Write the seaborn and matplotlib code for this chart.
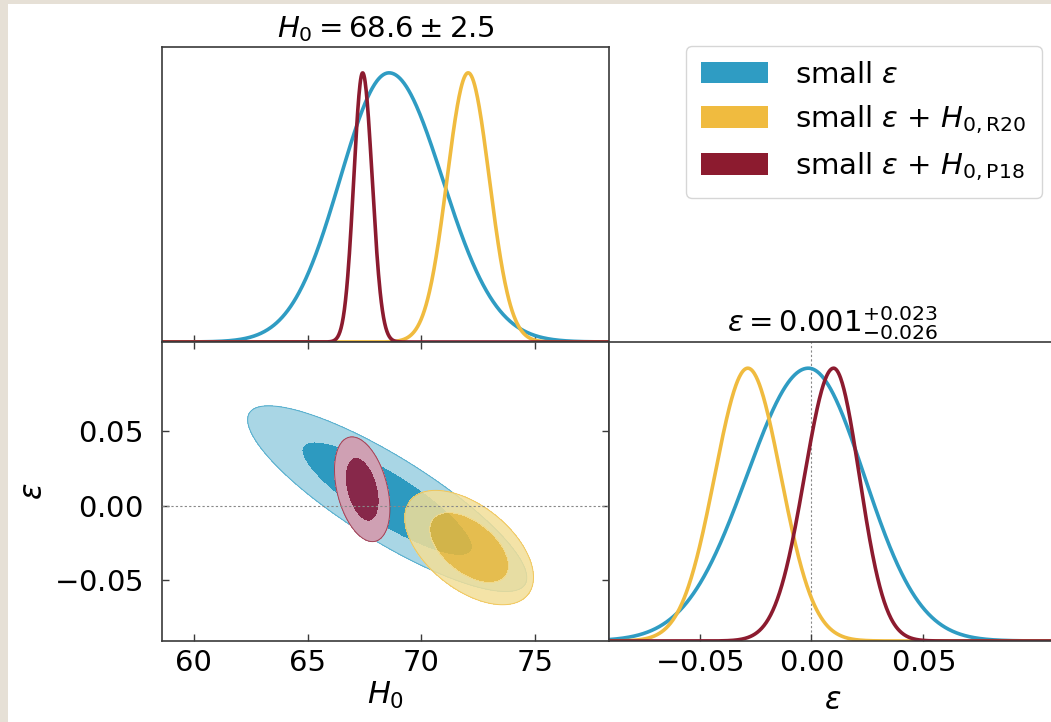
import numpy as np
import pandas as pd
import matplotlib
matplotlib.use("Agg")
import matplotlib.pyplot as plt
import seaborn as sns
from matplotlib.patches import Patch, Rectangle

# ---------------- data ----------------
series = ["small $\\epsilon$",
          "small $\\epsilon$ + $H_{0,\\mathrm{R20}}$",
          "small $\\epsilon$ + $H_{0,\\mathrm{P18}}$"]
line_colors = ["#2f9cc3", "#f0bb3f", "#8c1b2f"]

# 1D marginals (mode, sigma below mode, sigma above mode)
h0_mode = [68.58, 72.06, 67.42]
h0_sig_lo = [2.15, 0.93, 0.39]
h0_sig_hi = [2.35, 0.93, 0.42]
eps_mode = [-0.0013, -0.0284, 0.0100]
eps_sig_lo = [0.0275, 0.0148, 0.0130]
eps_sig_hi = [0.0250, 0.0148, 0.0115]

# 2D contours (mean, sigma, correlation)
c2_h0_mean = [68.5, 72.1, 67.4]
c2_eps_mean = [0.0047, -0.028, 0.011]
c2_h0_sig = [2.47, 1.14, 0.49]
c2_eps_sig = [0.0250, 0.0154, 0.0141]
c2_rho = [-0.85, -0.52, -0.37]
fill_light = ["#a9d6e5", "#f3df98", "#cfa0b3"]
fill_dark = ["#2d9ac0", "#f0b935", "#87284a"]
fill_alpha = [1.0, 0.85, 1.0]

title_h0 = "$H_0 = 68.6 \\pm 2.5$"
title_eps = "$\\epsilon = 0.001^{+0.023}_{-0.026}$"
h0_ticks = [60, 65, 70, 75]
eps_ticks = [-0.05, 0.00, 0.05]
eps_ticklabels = ["$-0.05$", "$0.00$", "$0.05$"]
h0_lim = (58.6, 78.25)
eps_lim = (-0.0905, 0.1095)

# ---------------- style ----------------
sns.set_theme(style="ticks")
plt.rcParams['font.family'] = ['DejaVu Sans']
plt.rcParams['mathtext.fontset'] = 'dejavusans'
plt.rcParams['text.color'] = 'black'
plt.rcParams['axes.labelcolor'] = 'black'
plt.rcParams['axes.titlecolor'] = 'black'

W, H = 1051, 722
fig = plt.figure(figsize=(W / 100, H / 100), dpi=100, facecolor="#e6e0d6")
fig.patches.append(Rectangle((8 / W, 0), 1, 1 - 4 / H, transform=fig.transFigure,
                             facecolor="white", edgecolor="none", zorder=-10))

axL, axR = 162 / W, 609 / W
aw = 447 / W
ah = 299 / H
b_bot = 1 - 641 / H
b_top = 1 - 342 / H
ax_top = fig.add_axes([axL, b_top, aw, 295 / H])
ax2d = fig.add_axes([axL, b_bot, aw, ah])
ax_br = fig.add_axes([axR, b_bot, aw, ah])

spine_col = "#3a3a3a"
tick_fs = 21
title_fs = 21
label_fs = 22


def split_normal(x, m, slo, shi):
    s = np.where(x < m, slo, shi)
    return np.exp(-0.5 * ((x - m) / s) ** 2)


# ---------- 1D H0 ----------
xh = np.linspace(h0_lim[0], h0_lim[1], 800)
rows = []
for i, name in enumerate(series):
    p = split_normal(xh, h0_mode[i], h0_sig_lo[i], h0_sig_hi[i])
    rows.append(pd.DataFrame({"H0": xh, "p": p, "series": name}))
df_h0 = pd.concat(rows, ignore_index=True)
sns.lineplot(data=df_h0, x="H0", y="p", hue="series", hue_order=series,
             palette=line_colors, lw=2.6, legend=False, ax=ax_top, estimator=None)
ax_top.set_xlim(*h0_lim)
ax_top.set_ylim(0, 1.096)
ax_top.set_xticks(h0_ticks)
ax_top.set_xticklabels([])
ax_top.set_yticks([])
ax_top.set_xlabel("")
ax_top.set_ylabel("")
ax_top.tick_params(axis="x", direction="in", length=5, width=1, colors=spine_col)
ax_top.set_title(title_h0, fontsize=title_fs, pad=7)

# ---------- 1D eps ----------
xe = np.linspace(eps_lim[0], eps_lim[1], 800)
rows = []
for i, name in enumerate(series):
    p = split_normal(xe, eps_mode[i], eps_sig_lo[i], eps_sig_hi[i])
    rows.append(pd.DataFrame({"eps": xe, "p": p, "series": name}))
df_eps = pd.concat(rows, ignore_index=True)
ax_br.axvline(0, color="#888888", lw=0.8, ls=(0, (2, 2)), zorder=0)
sns.lineplot(data=df_eps, x="eps", y="p", hue="series", hue_order=series,
             palette=line_colors, lw=2.6, legend=False, ax=ax_br, estimator=None)
ax_br.set_xlim(*eps_lim)
ax_br.set_ylim(0, 1.096)
ax_br.set_xticks(eps_ticks)
ax_br.set_xticklabels(eps_ticklabels, fontsize=tick_fs)
ax_br.set_yticks([])
ax_br.set_ylabel("")
ax_br.set_xlabel("$\\epsilon$", fontsize=label_fs, labelpad=6)
ax_br.tick_params(axis="x", direction="in", length=5, width=1, colors=spine_col,
                  labelcolor="black", pad=6)
ax_br.set_title(title_eps, fontsize=title_fs, pad=3)

# ---------- 2D ----------
gx = np.linspace(h0_lim[0], h0_lim[1], 500)
gy = np.linspace(eps_lim[0], eps_lim[1], 500)
X, Y = np.meshgrid(gx, gy)
for i in range(len(series)):
    dx = (X - c2_h0_mean[i]) / c2_h0_sig[i]
    dy = (Y - c2_eps_mean[i]) / c2_eps_sig[i]
    r = c2_rho[i]
    d2 = (dx ** 2 - 2 * r * dx * dy + dy ** 2) / (1 - r ** 2)
    ax2d.contourf(X, Y, d2, levels=[0, 2.30, 6.17],
                  colors=[fill_dark[i], fill_light[i]], alpha=fill_alpha[i], zorder=2 + i)
    ax2d.contour(X, Y, d2, levels=[6.17], colors=[line_colors[i]],
                 linewidths=0.7, alpha=0.7, zorder=2 + i)
ax2d.axhline(0, color="#888888", lw=0.8, ls=(0, (2, 2)), zorder=10)
ax2d.set_xlim(*h0_lim)
ax2d.set_ylim(*eps_lim)
ax2d.set_xticks(h0_ticks)
ax2d.set_xticklabels([str(t) for t in h0_ticks], fontsize=tick_fs)
ax2d.set_yticks(eps_ticks)
ax2d.set_yticklabels(eps_ticklabels, fontsize=tick_fs)
ax2d.tick_params(direction="in", length=5, width=1, colors=spine_col,
                 labelcolor="black", top=True, right=True)
ax2d.tick_params(axis="x", pad=6)
ax2d.tick_params(axis="y", pad=14)
ax2d.set_xlabel("$H_0$", fontsize=label_fs, labelpad=2)
ax2d.set_ylabel("$\\epsilon$", fontsize=label_fs, labelpad=4)

for ax in (ax_top, ax2d, ax_br):
    for s in ax.spines.values():
        s.set_color(spine_col)
        s.set_linewidth(1.2)
        s.set_visible(True)

# ---------- legend ----------
handles = [Patch(facecolor=c, edgecolor="none") for c in line_colors]
leg = fig.legend(handles, series, loc="upper left",
                 bbox_to_anchor=(686 / W, 1 - 46 / H), fontsize=21,
                 frameon=True, fancybox=True, edgecolor="#cccccc",
                 handlelength=2.3, handleheight=0.75, borderpad=0.5,
                 labelspacing=0.5, handletextpad=0.95, borderaxespad=0)
leg.get_frame().set_linewidth(1.0)

fig.savefig("out.png", dpi=100, facecolor=fig.get_facecolor())
